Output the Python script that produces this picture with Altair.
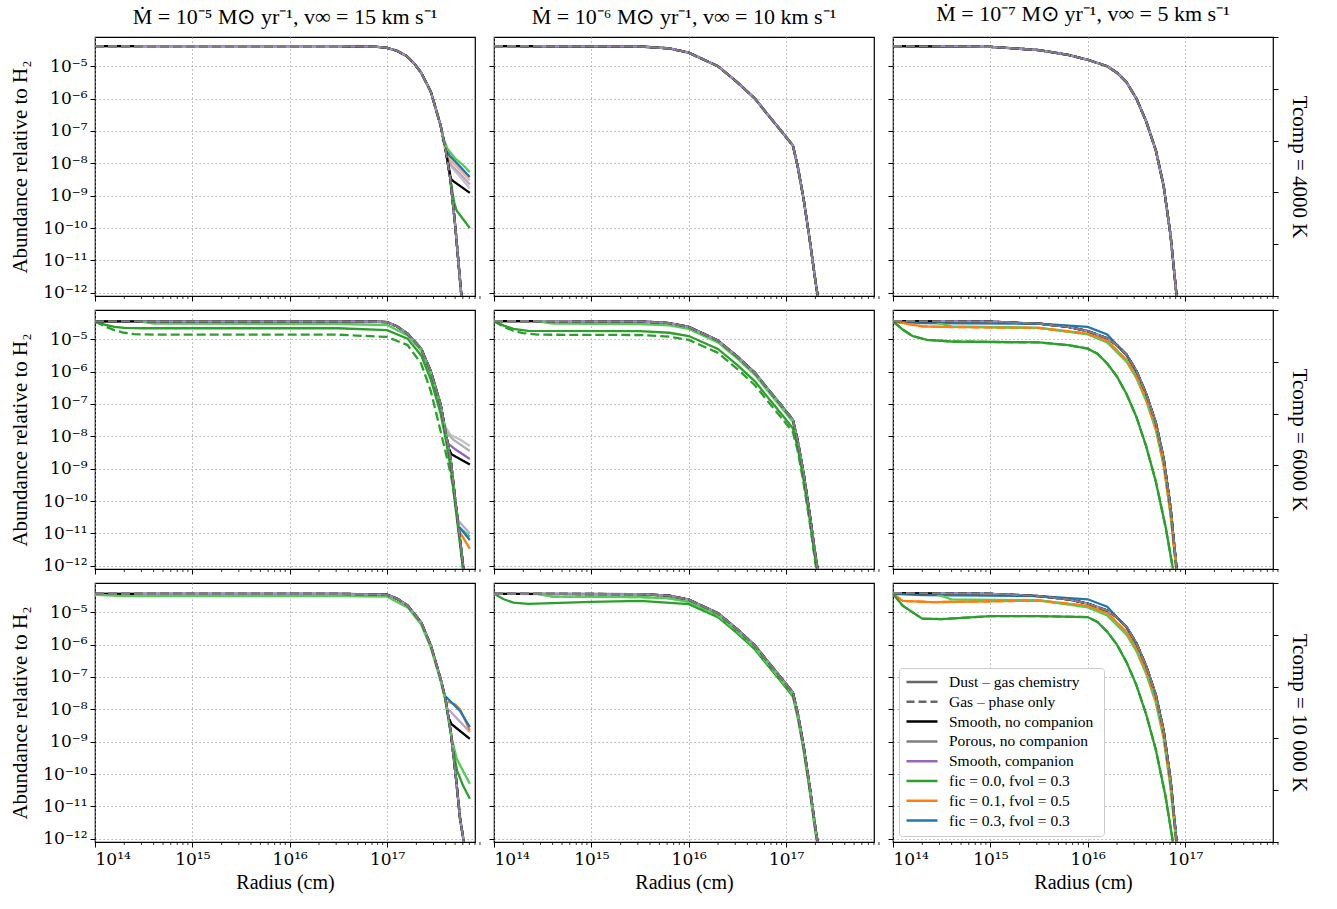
import altair as alt
import pandas as pd

FONT = "Liberation Serif"
TICK_FONT = "DejaVu Serif"

# ---------------- text / ticks ----------------
COL_TITLES = [
    "Ṁ = 10⁻⁵ M⊙ yr⁻¹,  v∞ = 15 km s⁻¹",
    "Ṁ = 10⁻⁶ M⊙ yr⁻¹,  v∞ = 10 km s⁻¹",
    "Ṁ = 10⁻⁷ M⊙ yr⁻¹,  v∞ = 5 km s⁻¹",
]
ROW_LABELS = ["Tcomp  =  4000 K", "Tcomp  =  6000 K", "Tcomp  =  10 000 K"]
X_TITLE = "Radius (cm)"
Y_TITLE = "Abundance relative to H₂"
X_EXPONENTS = [14, 15, 16, 17]
X_TICK_LABELS = ["10¹⁴", "10¹⁵", "10¹⁶", "10¹⁷"]
Y_EXPONENTS = [-12, -11, -10, -9, -8, -7, -6, -5]
Y_TICK_LABELS = ["10⁻¹²", "10⁻¹¹", "10⁻¹⁰", "10⁻⁹", "10⁻⁸", "10⁻⁷", "10⁻⁶", "10⁻⁵"]
MINOR_MANTISSAS = [2, 3, 4, 5, 6, 7, 8, 9]
X_DOMAIN = [1e14, 8e17]
Y_DOMAIN = [8e-13, 8e-5]
RIGHT_TICKS = [0.0, 0.2, 0.4, 0.6, 0.8, 1.0]

LEGEND_LABELS = [
    "Dust – gas chemistry", "Gas – phase only", "Smooth,  no companion",
    "Porous,  no companion", "Smooth,  companion",
    "fic = 0.0,  fvol = 0.3", "fic = 0.1,  fvol = 0.5", "fic = 0.3,  fvol = 0.3",
]
LEGEND_COLORS = ["#666666", "#666666", "#000000", "#7f7f7f", "#9467bd",
                 "#2ca02c", "#ff7f0e", "#1f77b4"]
LEGEND_DASHES = [[1, 0], [8, 4], [1, 0], [1, 0], [1, 0], [1, 0], [1, 0], [1, 0]]

BLACK, GRAY, LAV = "#000000", "#7f7f7f", "#a48ad0"
PURPLE, LPURPLE, LGRAY = "#9467bd", "#b9a3dc", "#c4c4c4"
GREEN, LGREEN = "#2ca02c", "#55cc55"
ORANGE, LORANGE = "#ff7f0e", "#ffb070"
BLUE, LBLUE = "#1f77b4", "#5fa8dc"
DASH = [9, 4]
LAV_START = 14.45

# ---------------- data (log10 radius / log10 abundance) ----------------
# column 1 : Mdot = 1e-5
C1R1_LR = [14.0, 16.5, 16.9, 17.0, 17.1, 17.2, 17.28, 17.35, 17.45, 17.55, 17.6, 17.65, 17.7, 17.76, 17.8]
C1R1_LA = [-4.38, -4.38, -4.40, -4.43, -4.52, -4.68, -4.92, -5.2, -5.79, -6.83, -7.55, -8.48, -9.92, -11.98, -13.2]
C1R1_LGREEN = ([17.56, 17.62, 17.70, 17.78, 17.85], [-7.1, -7.55, -7.85, -8.05, -8.27])
C1R1_BLUE = ([17.57, 17.64, 17.75, 17.85], [-7.25, -7.75, -8.1, -8.42])
C1R1_ORANGE = ([17.58, 17.65, 17.75, 17.85], [-7.4, -7.9, -8.2, -8.52])
C1R1_LPURPLE = ([17.59, 17.66, 17.76, 17.85], [-7.5, -8.05, -8.35, -8.65])
C1R1_LGRAY = ([17.59, 17.66, 17.76, 17.85], [-7.5, -8.1, -8.45, -8.78])
C1R1_BLACK = ([17.6, 17.655, 17.68, 17.85], [-7.55, -8.48, -8.55, -8.91])
C1R1_DGREEN = ([17.65, 17.688, 17.715, 17.78, 17.85], [-8.48, -9.2, -9.46, -9.72, -10.0])

C1R2_LR = [14.0, 16.5, 16.9, 17.0, 17.1, 17.21, 17.35, 17.45, 17.55, 17.6, 17.655, 17.705, 17.75, 17.78, 17.8]
C1R2_LA = [-4.45, -4.45, -4.46, -4.47, -4.6, -4.83, -5.29, -6.0, -7.02, -7.84, -8.76, -10.09, -11.2, -11.97, -12.6]
C1R2_LGREEN = ([14.45, 14.6, 16.5, 17.0, 17.21, 17.35, 17.45, 17.55, 17.6, 17.655, 17.705, 17.74, 17.85],
               [-4.45, -4.52, -4.53, -4.56, -4.88, -5.35, -6.07, -7.1, -7.9, -8.8, -10.1, -10.8, -11.1])
C1R2_DGREEN = ([14.0, 14.1, 14.2, 14.3, 14.5, 16.5, 17.0, 17.21, 17.35, 17.45, 17.55, 17.6, 17.655, 17.705, 17.75, 17.8],
               [-4.45, -4.55, -4.62, -4.65, -4.66, -4.66, -4.72, -4.98, -5.5, -6.25, -7.3, -8.05, -9.0, -10.25, -11.35, -12.6])
C1R2_GREEN_GAS = ([14.0, 14.1, 14.2, 14.3, 14.4, 14.6, 16.5, 17.0, 17.21, 17.35, 17.45, 17.55, 17.655, 17.72, 17.77, 17.8],
                  [-4.45, -4.6, -4.72, -4.8, -4.84, -4.86, -4.86, -4.93, -5.18, -5.75, -6.61, -7.84, -9.17, -10.4, -11.8, -12.6])
C1R2_LGRAY1 = ([17.58, 17.65, 17.75, 17.85], [-7.6, -7.95, -8.1, -8.3])
C1R2_LGRAY2 = ([17.6, 17.68, 17.85], [-7.84, -8.1, -8.45])
C1R2_PURPLE = ([17.62, 17.7, 17.85], [-8.2, -8.4, -8.7])
C1R2_BLACK = ([17.64, 17.66, 17.85], [-8.4, -8.55, -8.87])
C1R2_LOW_PURPLE = ([17.73, 17.85], [-10.6, -11.0])
C1R2_LOW_BLUE = ([17.74, 17.85], [-10.8, -11.2])
C1R2_LOW_ORANGE = ([17.745, 17.85], [-10.95, -11.47])

C1R3_LR = [14.0, 16.5, 16.9, 17.0, 17.1, 17.21, 17.35, 17.45, 17.55, 17.6, 17.655, 17.705, 17.75, 17.78, 17.8]
C1R3_LA = [-4.43, -4.43, -4.45, -4.46, -4.58, -4.79, -5.31, -6.03, -7.06, -7.68, -8.71, -10.04, -11.38, -11.94, -12.5]
C1R3_LGREEN = ([14.0, 14.3, 16.5, 17.0, 17.21, 17.35, 17.45, 17.55, 17.6, 17.655, 17.715, 17.78, 17.85],
               [-4.46, -4.5, -4.5, -4.52, -4.85, -5.38, -6.1, -7.12, -7.75, -8.78, -9.52, -9.9, -10.3])
C1R3_DGREEN = ([17.68, 17.72, 17.78, 17.85], [-9.3, -9.9, -10.35, -10.76])
C1R3_BLUE = ([17.6, 17.65, 17.75, 17.85], [-7.6, -7.75, -8.05, -8.55])
C1R3_ORANGE = ([17.62, 17.7, 17.75, 17.85], [-7.75, -7.85, -8.0, -8.65])
C1R3_LPURPLE = ([17.63, 17.85], [-8.0, -8.7])
C1R3_BLACK = ([17.64, 17.66, 17.85], [-8.3, -8.45, -8.91])

# column 2 : Mdot = 1e-6
C2R1_LR = [14.0, 15.5, 15.8, 16.0, 16.3, 16.5, 16.68, 16.8, 16.95, 17.07, 17.12, 17.18, 17.24, 17.3, 17.35]
C2R1_LA = [-4.38, -4.39, -4.45, -4.58, -5.0, -5.5, -6.0, -6.45, -7.0, -7.45, -8.1, -9.1, -10.3, -11.6, -12.6]
C2R2_LR = [14.0, 15.5, 15.8, 16.0, 16.3, 16.5, 16.68, 16.8, 16.95, 17.07, 17.12, 17.18, 17.24, 17.3, 17.35]
C2R2_LA = [-4.44, -4.45, -4.5, -4.62, -5.04, -5.54, -6.04, -6.49, -7.04, -7.49, -8.14, -9.14, -10.34, -11.64, -12.6]
C2R2_LGREEN = ([14.45, 14.6, 15.5, 15.8, 16.0, 16.3, 16.5, 16.68, 16.8, 16.95, 17.07, 17.12, 17.18, 17.24, 17.3, 17.35],
               [-4.45, -4.52, -4.53, -4.57, -4.68, -5.1, -5.6, -6.1, -6.55, -7.1, -7.55, -8.2, -9.2, -10.4, -11.7, -12.6])
C2R2_DGREEN = ([14.0, 14.1, 14.2, 14.35, 15.5, 15.8, 16.0, 16.3, 16.5, 16.68, 16.8, 16.95, 17.07, 17.12, 17.18, 17.24, 17.3, 17.35],
               [-4.44, -4.58, -4.68, -4.74, -4.75, -4.8, -4.9, -5.3, -5.8, -6.3, -6.75, -7.3, -7.75, -8.35, -9.35, -10.5, -11.8, -12.7])
C2R2_GREEN_GAS = ([14.0, 14.1, 14.2, 14.3, 14.45, 15.5, 15.8, 16.0, 16.3, 16.5, 16.68, 16.8, 16.95, 17.07, 17.12, 17.18, 17.24, 17.3, 17.35],
                  [-4.44, -4.62, -4.74, -4.81, -4.86, -4.87, -4.92, -5.02, -5.42, -5.92, -6.42, -6.87, -7.42, -7.87, -8.45, -9.45, -10.6, -11.9, -12.8])
C2R3_LR = [14.0, 15.5, 15.8, 16.0, 16.3, 16.5, 16.68, 16.8, 16.95, 17.07, 17.12, 17.18, 17.24, 17.3, 17.35]
C2R3_LA = [-4.43, -4.44, -4.49, -4.61, -5.03, -5.53, -6.03, -6.48, -7.03, -7.48, -8.13, -9.13, -10.33, -11.63, -12.6]
C2R3_LGREEN = ([14.45, 14.6, 15.5, 15.8, 16.0, 16.3, 16.5, 16.68, 16.8, 16.95, 17.07, 17.12, 17.18, 17.24, 17.3, 17.35],
               [-4.43, -4.52, -4.53, -4.57, -4.68, -5.1, -5.6, -6.1, -6.55, -7.1, -7.55, -8.2, -9.2, -10.4, -11.7, -12.6])
C2R3_DGREEN = ([14.0, 14.1, 14.2, 14.35, 14.6, 15.0, 15.5, 16.0, 16.3, 16.5, 16.68, 16.8, 16.95, 17.07, 17.12, 17.18, 17.24, 17.3, 17.35],
               [-4.43, -4.6, -4.7, -4.74, -4.72, -4.68, -4.65, -4.75, -5.15, -5.65, -6.15, -6.6, -7.15, -7.6, -8.25, -9.25, -10.45, -11.75, -12.7])

# column 3 : Mdot = 1e-7
C3R1_LR = [14.0, 15.0, 15.5, 15.8, 16.0, 16.2, 16.3, 16.4, 16.5, 16.6, 16.7, 16.78, 16.85, 16.91, 16.95]
C3R1_LA = [-4.38, -4.40, -4.5, -4.65, -4.8, -5.0, -5.2, -5.5, -6.0, -6.7, -7.6, -8.7, -10.2, -12.0, -13.0]
C3R2_LR = [14.0, 15.0, 15.5, 15.8, 16.0, 16.2, 16.3, 16.4, 16.5, 16.6, 16.7, 16.78, 16.85, 16.91, 16.95]
C3R2_LA = [-4.44, -4.46, -4.52, -4.62, -4.75, -4.97, -5.18, -5.48, -5.98, -6.68, -7.58, -8.68, -10.18, -12.0, -13.0]
C3R2_BLUE = ([14.0, 14.3, 15.5, 16.0, 16.2, 16.4, 16.5, 16.6, 16.7, 16.78, 16.85, 16.91],
             [-4.45, -4.5, -4.52, -4.62, -4.85, -5.5, -6.05, -6.75, -7.65, -8.75, -10.25, -12.05])
C3R2_ORANGE = ([14.0, 14.3, 14.5, 15.5, 16.0, 16.2, 16.4, 16.5, 16.6, 16.7, 16.78, 16.85, 16.91],
               [-4.45, -4.6, -4.62, -4.65, -4.83, -5.05, -5.65, -6.15, -6.85, -7.75, -8.85, -10.35, -12.1])
C3R2_LGREEN = ([14.45, 14.6, 15.5, 16.0, 16.2, 16.4, 16.5, 16.6, 16.7, 16.78, 16.85, 16.91],
               [-4.5, -4.6, -4.65, -4.85, -5.1, -5.7, -6.2, -6.9, -7.8, -8.9, -10.4, -12.1])
C3R2_DGREEN = ([14.0, 14.1, 14.2, 14.35, 14.6, 15.5, 15.8, 16.0, 16.1, 16.2, 16.3, 16.4, 16.5, 16.6, 16.7, 16.8, 16.87, 16.9],
               [-4.45, -4.7, -4.9, -5.02, -5.07, -5.1, -5.18, -5.29, -5.45, -5.75, -6.15, -6.7, -7.4, -8.3, -9.4, -10.8, -12.0, -12.6])
C3R3_LR = [14.0, 15.0, 15.5, 15.8, 16.0, 16.2, 16.3, 16.4, 16.5, 16.6, 16.7, 16.78, 16.85, 16.91, 16.95]
C3R3_LA = [-4.41, -4.43, -4.5, -4.6, -4.73, -4.95, -5.16, -5.46, -5.96, -6.66, -7.56, -8.66, -10.16, -12.0, -13.0]
C3R3_BLUE = ([14.0, 14.3, 15.5, 16.0, 16.2, 16.4, 16.5, 16.6, 16.7, 16.78, 16.85, 16.91],
             [-4.43, -4.47, -4.5, -4.6, -4.83, -5.48, -6.03, -6.73, -7.63, -8.73, -10.23, -12.05])
C3R3_ORANGE = ([14.0, 14.1, 14.4, 15.0, 15.5, 16.0, 16.2, 16.4, 16.5, 16.6, 16.7, 16.78, 16.85, 16.91],
               [-4.43, -4.65, -4.69, -4.66, -4.64, -4.8, -5.02, -5.62, -6.12, -6.82, -7.72, -8.82, -10.32, -12.1])
C3R3_LGREEN = ([14.45, 14.6, 15.5, 16.0, 16.2, 16.4, 16.5, 16.6, 16.7, 16.78, 16.85, 16.91],
               [-4.45, -4.6, -4.63, -4.85, -5.1, -5.7, -6.2, -6.9, -7.8, -8.9, -10.4, -12.1])
C3R3_DGREEN = ([14.0, 14.1, 14.3, 14.5, 15.0, 15.5, 16.0, 16.1, 16.2, 16.3, 16.4, 16.5, 16.6, 16.7, 16.8, 16.87, 16.9],
               [-4.43, -4.8, -5.2, -5.21, -5.12, -5.12, -5.15, -5.3, -5.6, -6.0, -6.55, -7.25, -8.15, -9.25, -10.7, -12.0, -12.6])

# ---------------- helpers ----------------
def expr_from(exps, labels):
    s = "round(log(datum.value)/LN10)"
    parts = [f"{s} == {e} ? '{l}'" for e, l in zip(exps, labels)]
    return " : ".join(parts) + " : ''"

X_EXPR = expr_from(X_EXPONENTS, X_TICK_LABELS)
Y_EXPR = expr_from(Y_EXPONENTS, Y_TICK_LABELS)
X_TICKS = [10.0 ** e for e in X_EXPONENTS]
Y_TICKS = [10.0 ** e for e in Y_EXPONENTS]
X_MINOR = [m * 10.0 ** e for e in X_EXPONENTS for m in MINOR_MANTISSAS]

W, H = 380, 259


def enc(row, col):
    xa = alt.Axis(values=X_TICKS, labelExpr=X_EXPR, labels=(row == 2),
                  title=(X_TITLE if row == 2 else None), tickSize=5, tickWidth=1,
                  labelFont=TICK_FONT, labelFontSize=17, titleFontSize=20, labelPadding=4, titlePadding=5)
    ya = alt.Axis(values=Y_TICKS, labelExpr=Y_EXPR, labels=(col == 0),
                  title=(Y_TITLE if col == 0 else None), tickSize=5, tickWidth=1,
                  labelFont=TICK_FONT, labelFontSize=17, titleFontSize=21, labelPadding=3, titlePadding=12)
    x = alt.X("r:Q", scale=alt.Scale(type="log", domain=X_DOMAIN, nice=False), axis=xa)
    y = alt.Y("a:Q", scale=alt.Scale(type="log", domain=Y_DOMAIN, nice=False), axis=ya)
    return x, y


def line(x, y, lr, la, color, dashed=False, width=2.3):
    df = pd.DataFrame({"r": [10.0 ** v for v in lr], "a": [10.0 ** v for v in la]})
    kw = dict(color=color, strokeWidth=width, clip=True)
    if dashed:
        kw["strokeDash"] = DASH
    return alt.Chart(df).mark_line(**kw).encode(x=x, y=y)


def base_set(x, y, lr, la):
    lav_lr = [LAV_START] + [v for v in lr if v > LAV_START]
    lav_la = [la[0]] + [a for v, a in zip(lr, la) if v > LAV_START]
    under = [line(x, y, lr, la, GRAY), line(x, y, lr, la, BLACK),
             line(x, y, lav_lr, lav_la, LAV)]
    over = [line(x, y, lr, la, BLACK, True), line(x, y, lr, la, GRAY, True)]
    return under, over


PANELS = {
    (0, 0): (C1R1_LR, C1R1_LA, [(C1R1_LGRAY, LGRAY), (C1R1_LPURPLE, LPURPLE), (C1R1_ORANGE, LORANGE),
                                (C1R1_BLUE, BLUE), (C1R1_LGREEN, LGREEN), (C1R1_BLACK, BLACK),
                                (C1R1_DGREEN, GREEN)], []),
    (1, 0): (C1R2_LR, C1R2_LA, [(C1R2_LGRAY1, LGRAY), (C1R2_LGRAY2, "#b0b0b0"), (C1R2_PURPLE, PURPLE),
                                (C1R2_BLACK, BLACK), (C1R2_LGREEN, LGREEN), (C1R2_DGREEN, GREEN),
                                (C1R2_LOW_PURPLE, LPURPLE), (C1R2_LOW_BLUE, BLUE), (C1R2_LOW_ORANGE, ORANGE)],
             [(C1R2_GREEN_GAS, GREEN)]),
    (2, 0): (C1R3_LR, C1R3_LA, [(C1R3_LPURPLE, LPURPLE), (C1R3_ORANGE, ORANGE), (C1R3_BLUE, BLUE),
                                (C1R3_BLACK, BLACK), (C1R3_LGREEN, LGREEN), (C1R3_DGREEN, GREEN)], []),
    (0, 1): (C2R1_LR, C2R1_LA, [], []),
    (1, 1): (C2R2_LR, C2R2_LA, [(C2R2_LGREEN, LGREEN), (C2R2_DGREEN, GREEN)], [(C2R2_GREEN_GAS, GREEN)]),
    (2, 1): (C2R3_LR, C2R3_LA, [(C2R3_LGREEN, LGREEN), (C2R3_DGREEN, GREEN)], [(C2R3_LGREEN, LGREEN)]),
    (0, 2): (C3R1_LR, C3R1_LA, [], []),
    (1, 2): (C3R2_LR, C3R2_LA, [(C3R2_BLUE, BLUE), (C3R2_ORANGE, ORANGE), (C3R2_LGREEN, LGREEN),
                                (C3R2_DGREEN, GREEN)], [(C3R2_ORANGE, ORANGE), (C3R2_DGREEN, GREEN)]),
    (2, 2): (C3R3_LR, C3R3_LA, [(C3R3_BLUE, BLUE), (C3R3_ORANGE, ORANGE), (C3R3_LGREEN, LGREEN),
                                (C3R3_DGREEN, GREEN)], [(C3R3_ORANGE, ORANGE), (C3R3_DGREEN, GREEN)]),
}


def panel(row, col):
    x, y = enc(row, col)
    lr, la, solids, dashes = PANELS[(row, col)]
    under, over = base_set(x, y, lr, la)
    layers = list(under)
    for (clr, cla), c in solids:
        layers.append(line(x, y, clr, cla, c))
    for (clr, cla), c in dashes:
        layers.append(line(x, y, clr, cla, c, True))
    layers += over
    minor = alt.Chart(pd.DataFrame({"r": X_MINOR})).mark_rule(color="black", strokeWidth=0.8).encode(
        x=x, y=alt.value(H), y2=alt.value(H + 3))
    layers.append(minor)
    if row == 2 and col == 2:
        leg = pd.DataFrame({"label": LEGEND_LABELS, "r": [1e15] * 8, "a": [1e-6] * 8})
        lg = alt.Legend(title=None, orient="bottom-left", offset=6, labelFont=FONT, labelFontSize=15.5,
                        symbolType="stroke", symbolStrokeWidth=2.5, symbolSize=961, clipHeight=16,
                        fillColor="white", strokeColor="#cccccc", padding=6, cornerRadius=3,
                        rowPadding=2.8, labelLimit=400, symbolOffset=0, labelOffset=10)
        layers.append(alt.Chart(leg).mark_line(strokeWidth=0).encode(
            x=x, y=y,
            color=alt.Color("label:N", scale=alt.Scale(domain=LEGEND_LABELS, range=LEGEND_COLORS), legend=lg),
            strokeDash=alt.StrokeDash("label:N", scale=alt.Scale(domain=LEGEND_LABELS, range=LEGEND_DASHES),
                                      legend=lg),
        ))
    inner = alt.layer(*layers)
    if col == 2:
        ra = alt.Axis(orient="right", labels=False, values=RIGHT_TICKS, tickSize=5, grid=False,
                      title=ROW_LABELS[row], titleFontSize=21, titlePadding=10, titleFontWeight="normal")
        right = alt.Chart(pd.DataFrame({"t": [0, 1], "r": [1e15, 1e15]})).mark_point(opacity=0).encode(
            x=x, y=alt.Y("t:Q", scale=alt.Scale(domain=[0, 1], nice=False), axis=ra))
        ch = alt.layer(inner, right).resolve_scale(y="independent")
    else:
        ch = inner
    ch = ch.properties(width=W, height=H)
    if row == 0:
        ch = ch.properties(title=alt.Title(COL_TITLES[col], font=FONT, fontSize=22, fontWeight="normal",
                                           offset=8))
    return ch


panels = [panel(r, c) for r in range(3) for c in range(3)]
chart = alt.concat(*panels, columns=3, spacing={"row": 14, "column": 19}, bounds="flush").resolve_legend(
    color="independent", strokeDash="independent"
).resolve_scale(color="independent", strokeDash="independent").properties(
    padding={"left": 9, "top": 2, "right": 10, "bottom": 5}
).configure_view(stroke="black", strokeWidth=1.2).configure_axis(
    domain=False, tickColor="black", labelColor="black", titleColor="black",
    labelFont=FONT, titleFont=FONT, titleFontWeight="normal",
    gridColor="#9a9a9a", gridDash=[1.2, 2.8], gridWidth=1
).configure_legend(labelColor="black")

chart.save("out.html", embed_options={"renderer": "svg", "actions": False})
